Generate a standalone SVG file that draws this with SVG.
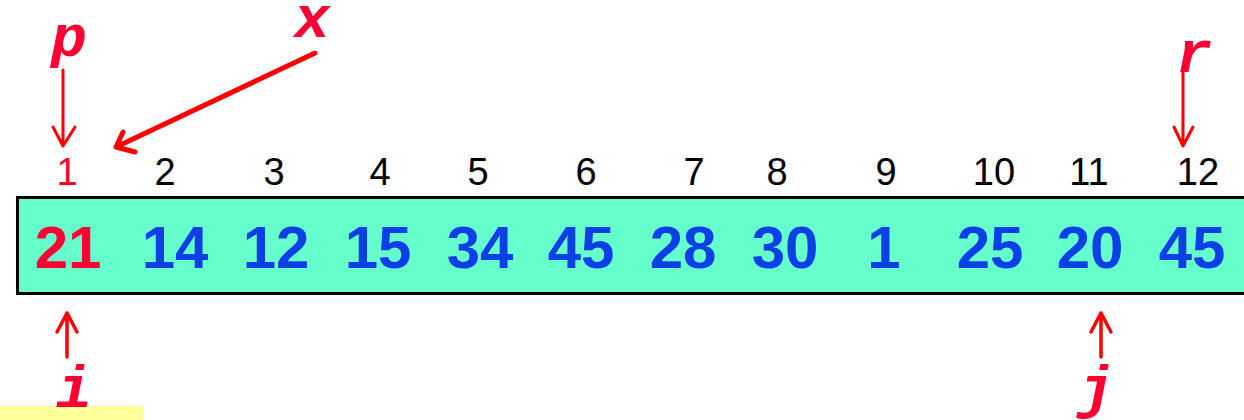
<svg xmlns="http://www.w3.org/2000/svg" width="1244" height="420" viewBox="0 0 1244 420">
<style>
.val{font-family:"Liberation Sans",Arial,sans-serif;font-weight:bold;font-size:60px;fill:#0a40e6;text-anchor:middle}
.idx{font-family:"Liberation Sans",Arial,sans-serif;font-size:38px;fill:#000;text-anchor:middle}
.var{font-family:"Liberation Mono","Courier New",monospace;font-weight:bold;font-style:italic;font-size:60px;fill:#ff0033;text-anchor:middle}
.arr{fill:none;stroke:#ff0000;stroke-linecap:round;stroke-linejoin:round}
</style>
<rect x="0" y="406" width="143" height="14" fill="#ffff99"/>
<g id="array">
<rect x="17.5" y="197.5" width="1240" height="96" fill="#66ffcc" stroke="#000" stroke-width="3"/>
<text class="val" x="68" y="268" style="fill:#ff0033">21</text>
<text class="val" x="175" y="268">14</text>
<text class="val" x="276" y="268">12</text>
<text class="val" x="378" y="268">15</text>
<text class="val" x="480" y="268">34</text>
<text class="val" x="581" y="268">45</text>
<text class="val" x="683" y="268">28</text>
<text class="val" x="785" y="268">30</text>
<text class="val" x="884" y="268">1</text>
<text class="val" x="990" y="268">25</text>
<text class="val" x="1090" y="268">20</text>
<text class="val" x="1192" y="268">45</text>
</g>
<g id="indices">
<text class="idx" x="67" y="185" style="fill:#ff0033">1</text>
<text class="idx" x="165" y="185">2</text>
<text class="idx" x="274" y="185">3</text>
<text class="idx" x="380" y="185">4</text>
<text class="idx" x="478" y="185">5</text>
<text class="idx" x="586" y="185">6</text>
<text class="idx" x="694" y="185">7</text>
<text class="idx" x="777" y="185">8</text>
<text class="idx" x="886" y="185">9</text>
<text class="idx" x="994" y="185">10</text>
<text class="idx" x="1089" y="185">11</text>
<text class="idx" x="1198" y="185">12</text>
</g>
<g id="p"><text class="var" x="69" y="56">p</text></g>
<g id="x"><text class="var" x="312" y="37">x</text></g>
<g id="r"><text class="var" x="1194" y="72">r</text></g>
<g id="i"><text class="var" x="74" y="407">i</text></g>
<g id="j"><text class="var" x="1096" y="407">j</text></g>
<g id="connectors">
<path class="arr" stroke-width="3" d="M63 70 V146 M53 127 L63 146 L75 127"/>
<path class="arr" stroke-width="5" d="M315 53 L116 147 M123 132 L116 147 L135 152"/>
<path class="arr" stroke-width="3" d="M1183 72 V146 M1174 127 L1183 146 L1193 127"/>
<path class="arr" stroke-width="3.5" d="M67 357 V313 M57 332 L67 313 L77 332"/>
<path class="arr" stroke-width="3.5" d="M1101 357 V313 M1091 332 L1101 313 L1111 332"/>
</g>
</svg>
